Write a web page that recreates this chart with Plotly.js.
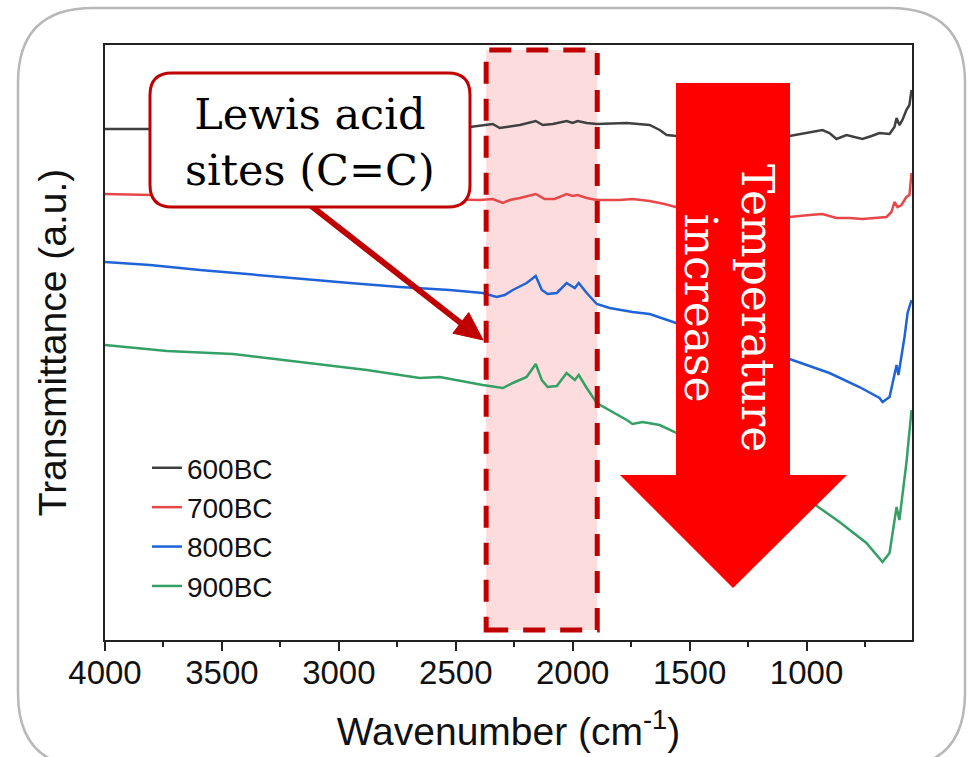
<!DOCTYPE html>
<html>
<head>
<meta charset="utf-8">
<script src="https://cdn.plot.ly/plotly-3.0.1.min.js"></script>
<style>html,body{margin:0;padding:0;background:#fff;}#chart{width:970px;height:757px;}</style>
</head>
<body>
<div id="chart"></div>
<script>
// Series names and colours
const seriesNames = ['600BC', '700BC', '800BC', '900BC'];
const seriesColors = ['#404040', '#e8474a', '#1f63d8', '#34a065'];

// 600BC
const wn600 = [4000,3808,3594,3380,3167,2953,2739,2526,2440,2342,2312,2226,2158,2128,2085,2026,2000,1979,1940,1897,1769,1671,1628,1598,1556,1457,1244,1073,1030,932,902,872,829,795,761,722,688,645,624,615,603,590,573,560,551];
const t600  = [511,511,510,511,512,512,512,513,513,516,512,515,519,515,516,519,517,519,517,516,517,515,510,505,504,503,503,504,506,510,507,501,505,503,501,504,507,506,513,522,515,520,530,535,550];

// 700BC
const wn700 = [4000,3808,3594,3380,3167,2953,2739,2526,2397,2342,2299,2269,2226,2158,2120,2077,2026,2000,1979,1940,1897,1799,1744,1671,1607,1560,1372,1201,1073,987,932,872,816,761,688,658,637,624,611,594,573,560,551];
const t700  = [446,445,444,444,443,443,442,441,440,441,437,440,442,446,441,441,446,444,445,442,440,440,441,439,436,433,430,426,423,425,426,422,422,421,422,423,428,438,433,435,443,445,467];

// 800BC
const wn800 = [4000,3808,3594,3453,3167,2953,2739,2526,2385,2325,2291,2256,2197,2158,2132,2107,2068,2026,1991,1974,1940,1897,1842,1744,1671,1573,1457,1244,1073,902,774,688,675,645,615,607,581,568,551];
const t800  = [378,375,370,367,361,357,353,350,347,343,345,350,357,364,350,346,347,357,352,357,347,336,332,328,326,318,309,293,281,267,253,242,238,243,275,265,303,327,340];

// 900BC
const wn900 = [4000,3735,3453,3167,2880,2654,2568,2385,2299,2256,2197,2158,2132,2107,2068,2026,1991,1974,1940,1897,1842,1769,1744,1701,1628,1564,1457,1244,974,859,744,675,645,615,603,573,551];
const t900  = [295,289,286,278,270,262,263,255,252,257,263,276,260,253,254,267,260,265,252,237,230,220,216,218,215,208,195,170,137,118,97,78,87,133,120,177,230];

const xTickStart = 1000, xTickStep = 500;
const highlightBand = [2370, 1895];

const xs = [wn600, wn700, wn800, wn900];
const ys = [t600, t700, t800, t900];

const traces = xs.map((x, i) => ({
  type: 'scatter', mode: 'lines', x: x, y: ys[i], name: seriesNames[i],
  line: {color: seriesColors[i], width: 2.5}, hoverinfo: 'skip'
}));

// helpers for paper coords (plot area: 105..912 x, 45..640 y)
const PX = p => (p - 105) / 807;
const PY = p => (640 - p) / 595;
function roundRect(x0, y0, x1, y1, r) {
  const rx = r / 807, ry = r / 595;
  const L = PX(x0), R = PX(x1), T = PY(y0), B = PY(y1);
  return `M${L+rx},${T} L${R-rx},${T} Q${R},${T} ${R},${T-ry} L${R},${B+ry} Q${R},${B} ${R-rx},${B} L${L+rx},${B} Q${L},${B} ${L},${B+ry} L${L},${T-ry} Q${L},${T} ${L+rx},${T} Z`;
}
function polyPath(pts) { return 'M' + pts.map(p => PX(p[0]) + ',' + PY(p[1])).join(' L') + ' Z'; }
const bigArrow = [[676,83],[790,83],[790,475],[847,475],[733,588],[620,475],[676,475]];
const calloutHead = [[483,340],[452.9,333.2],[468.7,312.6]];

const font = 'Liberation Sans, Arial, sans-serif';
const serif = 'DejaVu Serif, serif';

const layout = {
  width: 970, height: 757,
  margin: {l: 105, r: 58, t: 45, b: 117},
  paper_bgcolor: '#ffffff', plot_bgcolor: '#ffffff',
  showlegend: true,
  legend: {x: 0.052, y: 0.331, xanchor: 'left', yanchor: 'top', bgcolor: 'rgba(0,0,0,0)',
           font: {family: font, size: 28, color: '#111'}, tracegroupgap: 0},
  xaxis: {
    range: [4000, 549], autorange: false,
    tickmode: 'linear', tick0: xTickStart, dtick: xTickStep,
    ticks: 'outside', ticklen: 9, tickwidth: 2, tickcolor: '#222',
    ticklabelstandoff: -7,
    minor: {ticks: 'outside', ticklen: 5, tickwidth: 2, tickcolor: '#222', dtick: 250, tick0: 750},
    showline: true, linewidth: 2, linecolor: '#222', mirror: true,
    showgrid: false, zeroline: false,
    tickfont: {family: font, size: 33, color: '#111'},
    title: {text: 'Wavenumber (cm<sup>-1</sup>)', font: {family: font, size: 39, color: '#111'}, standoff: 28}
  },
  yaxis: {
    range: [0, 595], autorange: false,
    showticklabels: false, ticks: '',
    showline: true, linewidth: 2, linecolor: '#222', mirror: true,
    showgrid: false, zeroline: false,
    title: {text: 'Transmittance (a.u.)', font: {family: font, size: 39, color: '#111'}, standoff: 24}
  },
  shapes: [
    {type: 'path', xref: 'paper', yref: 'paper', layer: 'below', path: roundRect(18, 8, 965, 768, 75),
     line: {color: '#b8b8b8', width: 2.5}, fillcolor: 'rgba(0,0,0,0)'},
    {type: 'rect', xref: 'x', yref: 'paper', layer: 'below', x0: highlightBand[0], x1: highlightBand[1],
     y0: PY(630), y1: PY(50), fillcolor: '#fcdcdc', line: {width: 0}},
    {type: 'rect', xref: 'x', yref: 'paper', layer: 'above', x0: highlightBand[0], x1: highlightBand[1],
     y0: PY(630), y1: PY(50), fillcolor: 'rgba(0,0,0,0)', line: {color: '#c00000', width: 5, dash: '22px,15px'}},
    {type: 'path', xref: 'paper', yref: 'paper', layer: 'above', path: polyPath(bigArrow),
     fillcolor: '#ff0000', line: {width: 0}},
    {type: 'line', xref: 'paper', yref: 'paper', layer: 'above', x0: PX(310), y0: PY(205), x1: PX(462), y1: PY(324),
     line: {color: '#c00000', width: 6}},
    {type: 'path', xref: 'paper', yref: 'paper', layer: 'above', path: polyPath(calloutHead),
     fillcolor: '#c00000', line: {color: '#c00000', width: 1}},
    {type: 'path', xref: 'paper', yref: 'paper', layer: 'above', path: roundRect(150, 73, 470, 207, 22),
     fillcolor: '#ffffff', line: {color: '#c00000', width: 3}}
  ],
  annotations: [
    {xref: 'paper', yref: 'paper', x: PX(310), y: PY(142), xanchor: 'center', yanchor: 'middle',
     text: 'Lewis acid<br>sites (C=C)', showarrow: false,
     font: {family: serif, size: 43, color: '#000'}, align: 'center'},
    {xref: 'paper', yref: 'paper', x: PX(729), y: PY(308), xanchor: 'center', yanchor: 'middle',
     text: 'Temperature<br>increase', showarrow: false,
     textangle: 90, font: {family: serif, size: 44, color: '#ffffff'}, align: 'center'}
  ]
};

Plotly.newPlot('chart', traces, layout, {displayModeBar: false, staticPlot: true});
</script>
</body>
</html>
